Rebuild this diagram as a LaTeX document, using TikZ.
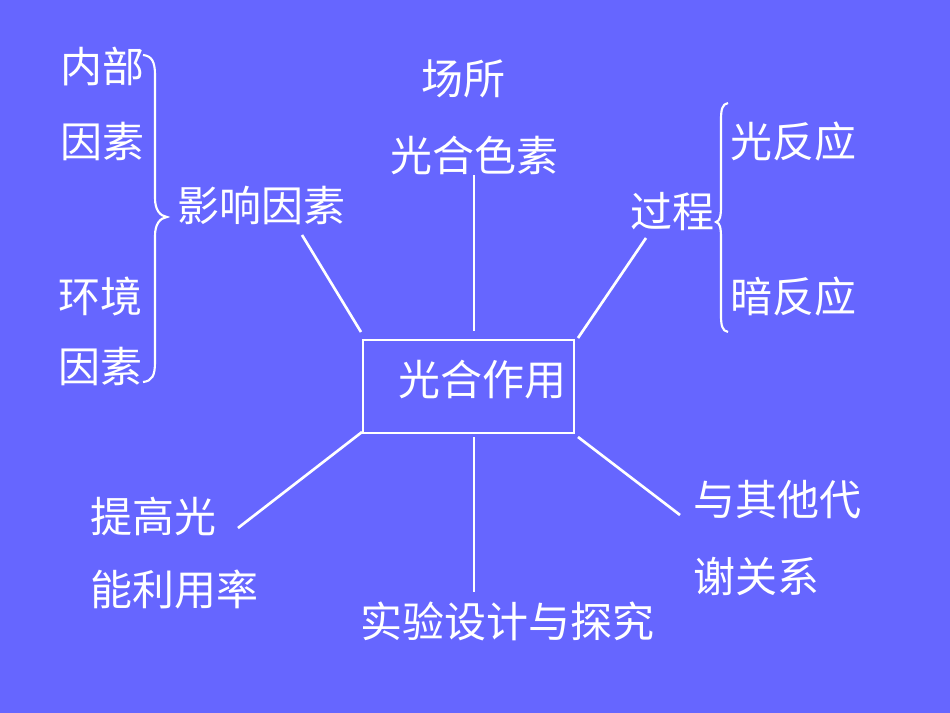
\documentclass[tikz,border=0pt]{standalone}
\usepackage{fontspec}
\newfontfamily\cjk{Noto Sans CJK SC}
\definecolor{bg}{HTML}{6666FF}
\begin{document}
\begin{tikzpicture}[x=0.75pt,y=-0.75pt,
  lbl/.style={anchor=base west,inner sep=0pt,text=white,font=\cjk\fontsize{31.5}{31.5}\selectfont},
  ln/.style={draw=white,line width=2pt},
  brc/.style={draw=white,line width=1.6pt}]
\fill[bg] (0,0) rectangle (950,713);
\useasboundingbox (0,0) rectangle (950,713);
% centre box
\node[draw=white,line width=2.2pt,minimum width=211*0.75pt,minimum height=93*0.75pt,inner sep=0pt] (box) at (468.5,386.5) {};
\node[lbl] (main) at (398,395) {光合作用};
% top-left group
\node[lbl] (nb) at (60,83) {内部};
\node[lbl] (ys1) at (60,158) {因素};
\node[lbl] (hj) at (58,312) {环境};
\node[lbl] (ys2) at (58,382) {因素};
\node[lbl] (yx) at (177,222) {影响因素};
\draw[brc] (143,55) .. controls (152,56) and (155,62) .. (155,75) -- (155,198)
  .. controls (155,210) and (160,216) .. (167,217)
  .. controls (160,218) and (155,224) .. (155,236) -- (155,362)
  .. controls (155,376) and (152,381) .. (143,382);
% top
\node[lbl] (cs) at (421,95) {场所};
\node[lbl] (sz) at (390,172) {光合色素};
% top-right group
\node[lbl] (gc) at (630,228) {过程};
\node[lbl] (gfy) at (730,158) {光反应};
\node[lbl] (afy) at (730,312) {暗反应};
\draw[brc] (728,103) .. controls (722,104) and (721,110) .. (721,120) -- (721,206)
  .. controls (721,216) and (720,221) .. (716,222)
  .. controls (720,223) and (721,228) .. (721,238) -- (721,315)
  .. controls (721,325) and (722,331) .. (728,332);
% bottom
\node[lbl] (tg) at (90,532) {提高光};
\node[lbl] (nl) at (90,605) {能利用率};
\node[lbl] (sy) at (360,637) {实验设计与探究};
\node[lbl] (yq) at (693,515) {与其他代};
\node[lbl] (xg) at (693,592) {谢关系};
% connector end points
\coordinate (a1) at (302,235); \coordinate (a2) at (361,332);
\coordinate (b1) at (474,175); \coordinate (b2) at (474,331);
\coordinate (c1) at (646,238); \coordinate (c2) at (578,338);
\coordinate (d1) at (238,528); \coordinate (d2) at (362,432);
\coordinate (e1) at (474,592); \coordinate (e2) at (474,437);
\coordinate (f1) at (680,515); \coordinate (f2) at (578,437);
\draw[ln] (a1) -- (a2);
\draw[ln] (b1) -- (b2);
\draw[ln] (c1) -- (c2);
\draw[ln] (d1) -- (d2);
\draw[ln] (e1) -- (e2);
\draw[ln] (f1) -- (f2);
\end{tikzpicture}
\end{document}
